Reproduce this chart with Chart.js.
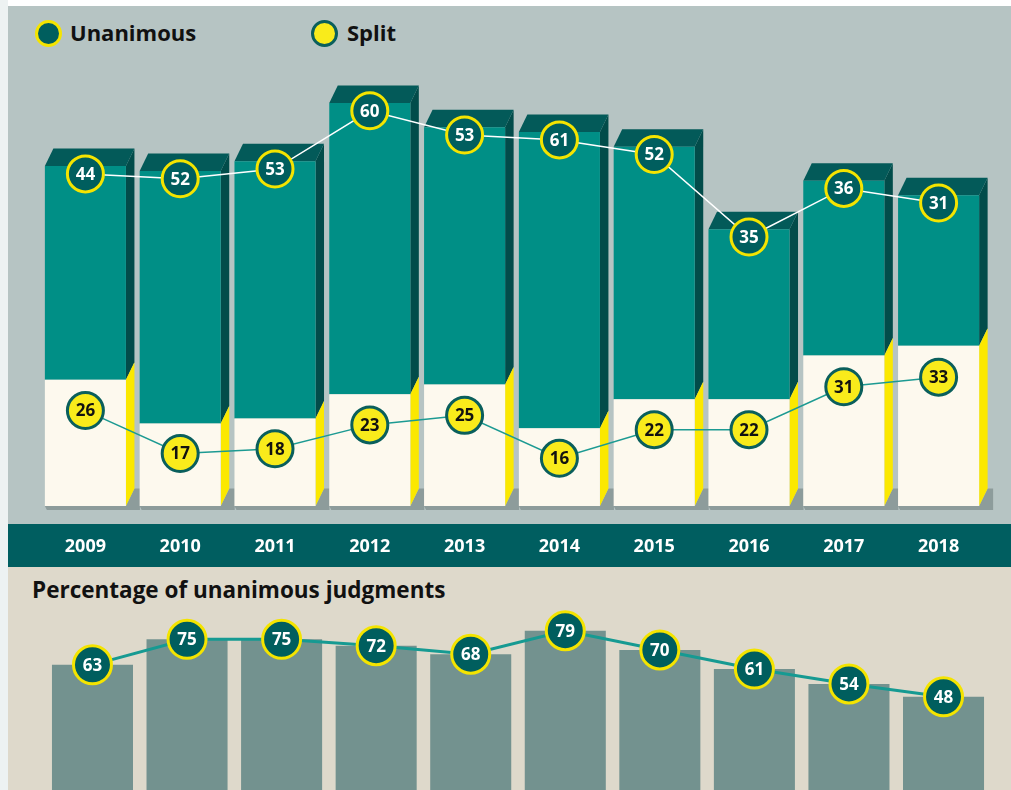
<!DOCTYPE html>
<html>
<head>
<meta charset="utf-8">
<script src="https://cdn.jsdelivr.net/npm/chart.js@4.4.1/dist/chart.umd.min.js"></script>
<style>
  html, body { margin: 0; padding: 0; }
  body { width: 1011px; height: 790px; overflow: hidden; position: relative; background: #ffffff; font-family: "Open Sans", Lato, sans-serif; }
  .abs { position: absolute; }
  #strip { left: 0; top: 0; width: 8px; height: 790px; background: #edf2f2; }
  #topPanel { left: 8px; top: 6px; width: 1003px; height: 518px; background: #b6c4c3; }
  #band { left: 8px; top: 524px; width: 1003px; height: 43px; background: #005e60; }
  #bottomPanel { left: 8px; top: 567px; width: 1003px; height: 223px; background: #ded9cb; }
  .dot { width: 27px; height: 27px; box-sizing: border-box; border-radius: 50%; border: 3px solid; }
  .legendText { font-size: 22px; font-weight: 700; line-height: 22px; color: #111; white-space: nowrap; }
  #title { left: 32px; top: 579px; font-size: 22.5px; font-weight: 700; line-height: 22px; color: #111; white-space: nowrap; }
  canvas { position: absolute; }
</style>
</head>
<body>
<div id="strip" class="abs"></div>
<div id="topPanel" class="abs"></div>
<div id="band" class="abs"></div>
<div id="bottomPanel" class="abs"></div>

<div class="abs dot" style="left:35px; top:20px; background:#005e5e; border-color:#f4e400;"></div>
<div class="abs legendText" style="left:70px; top:21px;">Unanimous</div>
<div class="abs dot" style="left:311px; top:20px; background:#f9eb1b; border-color:#0a5f5c;"></div>
<div class="abs legendText" style="left:347px; top:21px;">Split</div>

<div id="title" class="abs">Percentage of unanimous judgments</div>

<canvas id="mainChart" width="1003" height="561" style="left:8px; top:6px;"></canvas>
<canvas id="pctChart" width="1003" height="232" style="left:8px; top:567px;"></canvas>

<script>
// ---- data ----
const years = ["2009", "2010", "2011", "2012", "2013", "2014", "2015", "2016", "2017", "2018"];
const unanimous = [44, 52, 53, 60, 53, 61, 52, 35, 36, 31];
const split = [26, 17, 18, 23, 25, 16, 22, 22, 31, 33];
const pctUnanimous = [63, 75, 75, 72, 68, 79, 70, 61, 54, 48];

// unanimous markers sit on top of the stacked column
const totals = unanimous.map((u, i) => u + split[i]);

const FONT = "'Open Sans', Lato, sans-serif";

/* ===================== 3D COLUMNS ===================== */

const DX = 8.5, DY = 17.5;

function poly(ctx, pts, color) {
    ctx.beginPath();
    ctx.moveTo(pts[0][0], pts[0][1]);
    for (let i = 1; i < pts.length; i++) ctx.lineTo(pts[i][0], pts[i][1]);
    ctx.closePath();
    ctx.fillStyle = color;
    ctx.fill();
}

const columns3d = {
    id: "columns3d",
    beforeDatasetsDraw(chart) {
        const ctx = chart.ctx;
        const lower = chart.getDatasetMeta(0).data;
        const upper = chart.getDatasetMeta(1).data;
        ctx.save();
        lower.forEach((bar, i) => {
            const top = upper[i];
            const L = bar.x - bar.width / 2;
            const R = bar.x + bar.width / 2;
            const B = bar.base;
            const S = bar.y;
            const T = top.y;
            // shadow
            poly(ctx, [[L, B], [R, B], [R + DX, B - DY], [R + 14, B - DY], [R + 14, B + 4], [L + 2, B + 4]], "#8d9c9b");
            // side faces
            poly(ctx, [[R, T], [R + DX, T - DY], [R + DX, S - DY], [R, S]], "#024c4a");
            poly(ctx, [[R, S], [R + DX, S - DY], [R + DX, B - DY], [R, B]], "#fbe800");
            // top face
            poly(ctx, [[L, T], [L + DX, T - DY], [R + DX, T - DY], [R, T]], "#035a59");
        });
        ctx.restore();
    },
};

/* ===================== MARKER LABELS ===================== */

const markerLabels = {
    id: "markerLabels",
    afterDatasetsDraw(chart) {
        const ctx = chart.ctx;
        ctx.save();
        ctx.font = "700 17px " + FONT;
        ctx.textAlign = "center";
        ctx.textBaseline = "middle";
        chart.data.datasets.forEach((ds, di) => {
            if (!ds.valueLabels) return;
            ctx.fillStyle = ds.labelColor;
            chart.getDatasetMeta(di).data.forEach((pt, i) => {
                ctx.fillText(String(ds.valueLabels[i]), pt.x, pt.y + 1);
            });
        });
        ctx.restore();
    },
};

function markerLine(data, axis, lineColor, lineWidth, fill, border, labels, labelColor, radius) {
    return {
        type: "line",
        data,
        yAxisID: axis,
        order: 0,
        clip: false,
        borderColor: lineColor,
        borderWidth: lineWidth,
        pointRadius: radius,
        pointHoverRadius: radius,
        pointBackgroundColor: fill,
        pointBorderColor: border,
        pointBorderWidth: 3,
        valueLabels: labels,
        labelColor,
    };
}

/* ===================== MAIN CHART ===================== */

new Chart(document.getElementById("mainChart"), {
    type: "bar",
    data: {
        labels: years,
        datasets: [
            {
                label: "Split",
                data: split,
                backgroundColor: "#fdf9ee",
                borderWidth: 0,
                stack: "a",
                order: 2,
                barPercentage: 0.855,
                categoryPercentage: 1,
            },
            {
                label: "Unanimous",
                data: unanimous,
                backgroundColor: "#008f86",
                borderWidth: 0,
                stack: "a",
                order: 2,
                barPercentage: 0.855,
                categoryPercentage: 1,
            },
            markerLine(totals, "yU", "#ffffff", 1.5, "#005e5e", "#f4e400", unanimous, "#ffffff", 18),
            markerLine(split, "yS", "#1c9a92", 1.5, "#f9eb1b", "#0a5f5c", split, "#111111", 18),
        ],
    },
    options: {
        responsive: false,
        animation: false,
        events: [],
        layout: { autoPadding: false, padding: { top: 63, left: 30, right: 25, bottom: 0 } },
        plugins: { legend: { display: false }, tooltip: { enabled: false } },
        scales: {
            x: {
                stacked: true,
                grid: { display: false, drawTicks: false },
                border: { display: false },
                ticks: {
                    color: "#ffffff",
                    padding: 30,
                    font: { family: FONT, size: 18, weight: "700" },
                },
                afterFit: scale => { scale.height = 61; },
            },
            y: { stacked: true, display: false, min: 0, max: 90 },
            yU: { display: false, min: 1.6, max: 91.6 },
            yS: { display: false, min: 6.0, max: 97.6 },
        },
    },
    plugins: [columns3d, markerLabels],
});

/* ===================== PERCENT CHART ===================== */

new Chart(document.getElementById("pctChart"), {
    type: "bar",
    data: {
        labels: years,
        datasets: [
            {
                label: "Unanimous %",
                data: pctUnanimous,
                backgroundColor: "#73928f",
                borderWidth: 0,
                order: 2,
                barPercentage: 0.857,
                categoryPercentage: 1,
            },
            markerLine(pctUnanimous, "y", "#169a92", 3, "#005e5e", "#f4e400", pctUnanimous, "#ffffff", 19),
        ],
    },
    options: {
        responsive: false,
        animation: false,
        events: [],
        layout: { autoPadding: false, padding: { top: 53.1, left: 37.2, right: 20.2, bottom: 0 } },
        plugins: { legend: { display: false }, tooltip: { enabled: false } },
        scales: {
            x: { display: false },
            y: { display: false, min: 0, max: 84 },
        },
    },
    plugins: [markerLabels],
});
</script>
</body>
</html>
